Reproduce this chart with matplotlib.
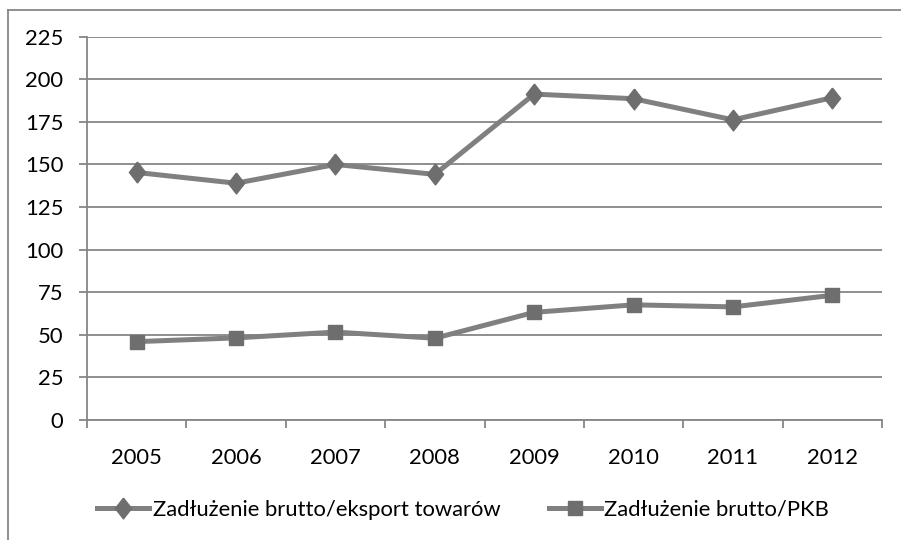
# Zadluzenie brutto - wykres liniowy w stylu Excela

import numpy as np
import matplotlib
import matplotlib.pyplot as plt
from matplotlib.lines import Line2D

matplotlib.use('Agg')

years = ['2005', '2006', '2007', '2008', '2009', '2010', '2011', '2012']
debt_export = [145.3, 139.0, 150.0, 144.2, 191.3, 188.6, 176.2, 189.2]
debt_gdp = [46.0, 48.2, 51.6, 48.0, 63.2, 67.6, 66.4, 73.2]
labels = ['Zadłużenie brutto/eksport towarów', 'Zadłużenie brutto/PKB']
y_ticks = [0, 25, 50, 75, 100, 125, 150, 175, 200, 225]

grey = '#868686'
line_col = '#808080'
mark_col = '#6e6e6e'
fsize = 15.8

plt.rcParams['font.family'] = ['Lato', 'DejaVu Sans']

fig = plt.figure(figsize=(9.01, 5.40), dpi=100)
ax = fig.add_axes([87 / 901, 120 / 540, 795 / 901, 383.3 / 540])

diamond = [(0, 1), (0.78, 0), (0, -1), (-0.78, 0), (0, 1)]
x = np.arange(len(years))
ax.plot(x, debt_export, color=line_col, lw=3.6, marker=diamond, ms=15,
        mfc=mark_col, mec=mark_col, label=labels[0], solid_joinstyle='round')
ax.plot(x, debt_gdp, color=line_col, lw=3.6, marker='s', ms=10.5,
        mfc=mark_col, mec=mark_col, label=labels[1], solid_joinstyle='round')

ax.set_xlim(-0.5, len(years) - 0.5)
ax.set_ylim(0, 225)
ax.set_yticks(y_ticks)
ax.set_yticklabels([str(v) for v in y_ticks], fontsize=fsize)
ax.yaxis.grid(True, color=grey, lw=1.3)
ax.set_axisbelow(True)

ax.set_xticks(x)
ax.set_xticklabels(years, fontsize=fsize)
ax.set_xticks(np.arange(-0.5, len(years)), minor=True)
ax.tick_params(axis='x', which='major', length=0, pad=20)
ax.tick_params(axis='x', which='minor', length=6, width=1.3, color=grey)
ax.tick_params(axis='y', length=6, width=1.3, color=grey, pad=11)

for side in ['top', 'right']:
    ax.spines[side].set_visible(False)
for side in ['left', 'bottom']:
    ax.spines[side].set_color(grey)
    ax.spines[side].set_linewidth(1.3)

ax.legend(loc='center', bbox_to_anchor=(463 / 901, 1 - 510 / 540),
          bbox_transform=fig.transFigure, ncol=2, frameon=False,
          fontsize=fsize, handlelength=2.4, handletextpad=0.15,
          columnspacing=2.2)

# ramka wykresu (przycieta z prawej i z dolu)
fig.add_artist(Line2D([8 / 901, 1], [1 - 10 / 540, 1 - 10 / 540],
                      color=grey, lw=1.3, transform=fig.transFigure))
fig.add_artist(Line2D([8 / 901, 8 / 901], [0, 1 - 10 / 540],
                      color=grey, lw=1.3, transform=fig.transFigure))

fig.savefig('out.png', dpi=100)
